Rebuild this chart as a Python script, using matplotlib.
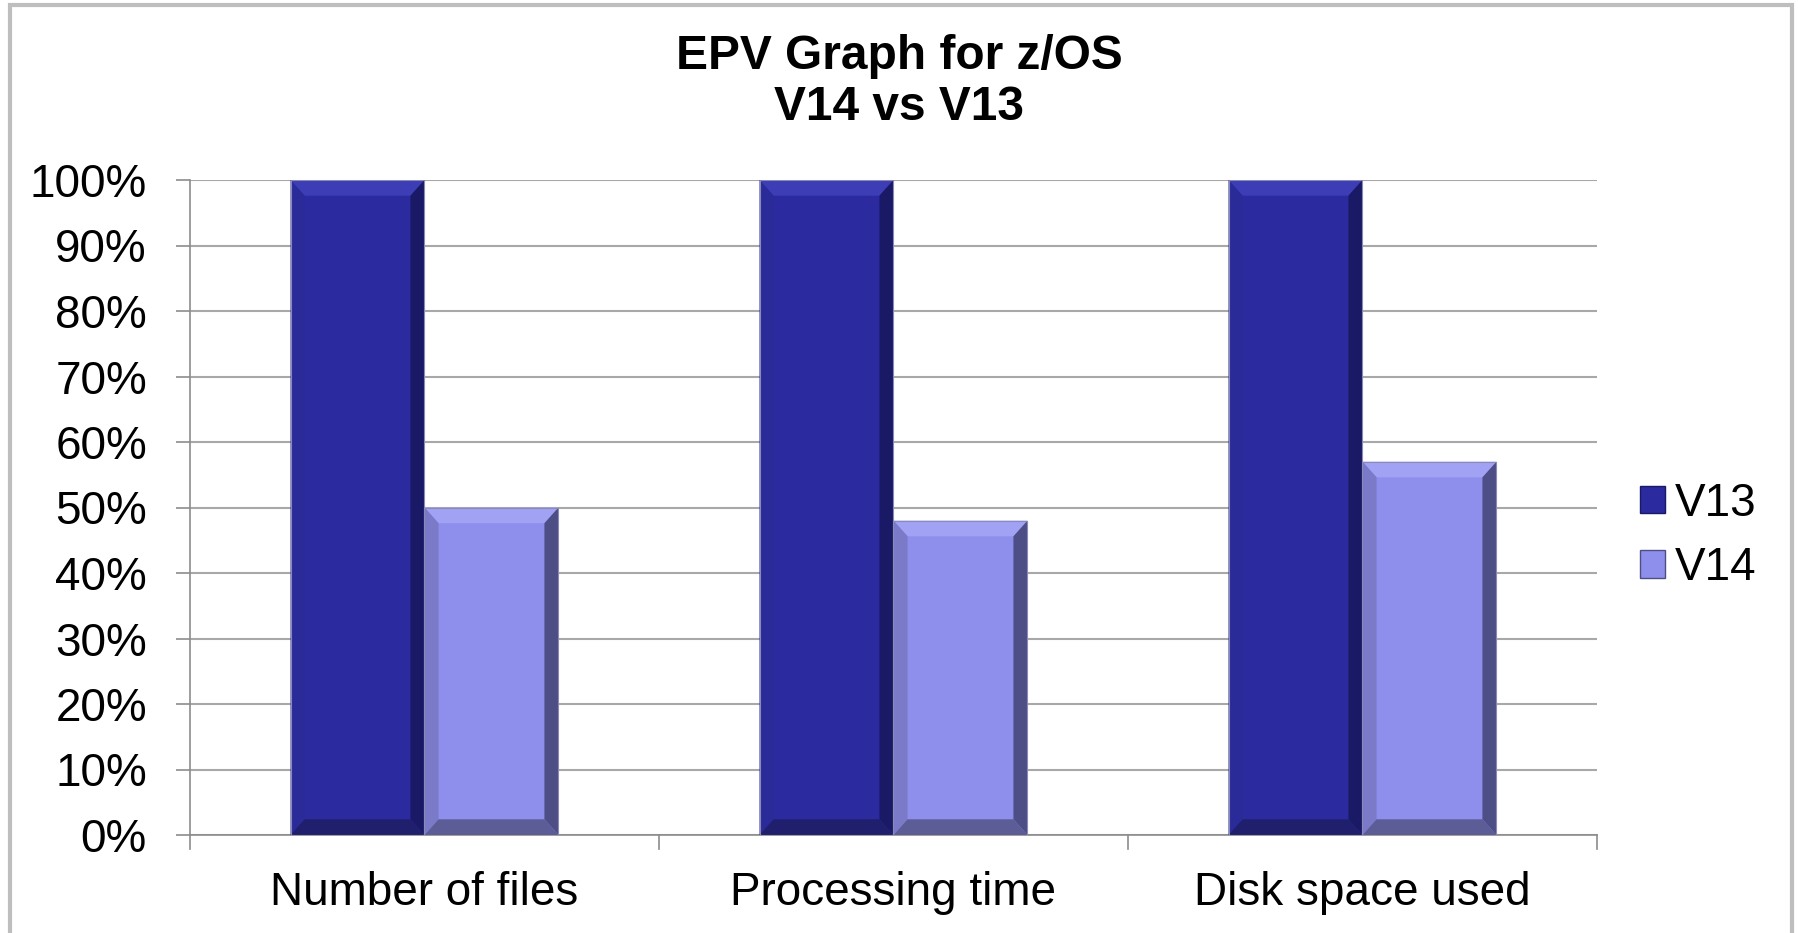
import matplotlib
matplotlib.use('Agg')
import matplotlib.pyplot as plt
from matplotlib.patches import Polygon, Rectangle, Patch

plt.rcParams['font.family'] = ['Liberation Sans', 'DejaVu Sans']

categories = ['Number of files', 'Processing time', 'Disk space used']
series_names = ['V13', 'V14']
v13 = [1.00, 1.00, 1.00]
v14 = [0.50, 0.48, 0.57]
yticks = [0, 0.1, 0.2, 0.3, 0.4, 0.5, 0.6, 0.7, 0.8, 0.9, 1.0]

# face, top, left, right, bottom colours for the bevel look
styles = {
    'V13': dict(face='#2B2B9F', top='#3D3DB5', left='#2A2A98', right='#191966', bottom='#1F1F6E'),
    'V14': dict(face='#8E8EEC', top='#A2A2F4', left='#7A7AC9', right='#4E4E86', bottom='#5C5C96'),
}


def bevel_bar(ax, x0, w, h, st, bx=0.03, by=0.024):
    x1 = x0 + w
    ax.add_patch(Rectangle((x0, 0), w, h, facecolor=st['face'], edgecolor='none', zorder=3))
    ax.add_patch(Polygon([(x0, h), (x1, h), (x1 - bx, h - by), (x0 + bx, h - by)],
                         closed=True, facecolor=st['top'], edgecolor='none', zorder=4))
    ax.add_patch(Polygon([(x0, 0), (x0, h), (x0 + bx, h - by), (x0 + bx, by)],
                         closed=True, facecolor=st['left'], edgecolor='none', zorder=4))
    ax.add_patch(Polygon([(x1, 0), (x1, h), (x1 - bx, h - by), (x1 - bx, by)],
                         closed=True, facecolor=st['right'], edgecolor='none', zorder=4))
    ax.add_patch(Polygon([(x0, 0), (x1, 0), (x1 - bx, by), (x0 + bx, by)],
                         closed=True, facecolor=st['bottom'], edgecolor='none', zorder=4))
    ax.add_patch(Rectangle((x0, 0), w, h, facecolor='none', edgecolor='#8A8AB8', lw=0.8, zorder=5))


fig = plt.figure(figsize=(17.99, 9.33), dpi=100)
fig.patches.append(Rectangle((10 / 1799, -0.05), 1782 / 1799, 1.05 - 5 / 933, transform=fig.transFigure,
                             facecolor='none', edgecolor='#BEBEBE', lw=3, zorder=0))

ax = fig.add_axes([190 / 1799, 1 - 835 / 933, 1407 / 1799, 655 / 933])

w = 0.2857
for i in range(len(categories)):
    bevel_bar(ax, i - w, w, v13[i], styles['V13'])
    bevel_bar(ax, i, w, v14[i], styles['V14'])

ax.set_xlim(-0.5, len(categories) - 0.5)
ax.set_ylim(0, 1.0)
ax.set_yticks(yticks)
ax.set_yticklabels([f'{int(round(t * 100))}%' for t in yticks], fontsize=33)
ax.set_xticks(range(len(categories)))
ax.set_xticklabels(categories, fontsize=33)
ax.tick_params(axis='x', length=0, pad=26)
ax.tick_params(axis='y', length=10, width=1.2, color='#8C8C8C', pad=21)

# category boundary ticks below x axis
for b in [-0.5, 0.5, 1.5, 2.5]:
    ax.plot([b, b], [0, -14 / 655], color='#8C8C8C', lw=1.2, clip_on=False, zorder=2)

ax.grid(axis='y', color='#A8A8A8', lw=1.5, zorder=1)
ax.set_axisbelow(True)
for s in ['top', 'right']:
    ax.spines[s].set_visible(False)
ax.spines['left'].set_color('#8C8C8C')
ax.spines['bottom'].set_color('#8C8C8C')
ax.spines['left'].set_linewidth(1.2)
ax.spines['bottom'].set_linewidth(1.2)

fig.text(899 / 1799, 1 - 82 / 933, 'EPV Graph for z/OS\nV14 vs V13', ha='center', va='center',
         fontsize=34.5, fontweight='bold', linespacing=1.15)

handles = [Patch(facecolor=styles[n]['face'], edgecolor=styles[n]['right']) for n in series_names]
fig.legend(handles, series_names, loc='center left', bbox_to_anchor=(1640 / 1799, 1 - 536 / 933),
           fontsize=33, frameon=False, handlelength=0.55, handleheight=0.55, handletextpad=0.2,
           labelspacing=0.45, borderaxespad=0, borderpad=0)

fig.savefig('out.png', dpi=100)
